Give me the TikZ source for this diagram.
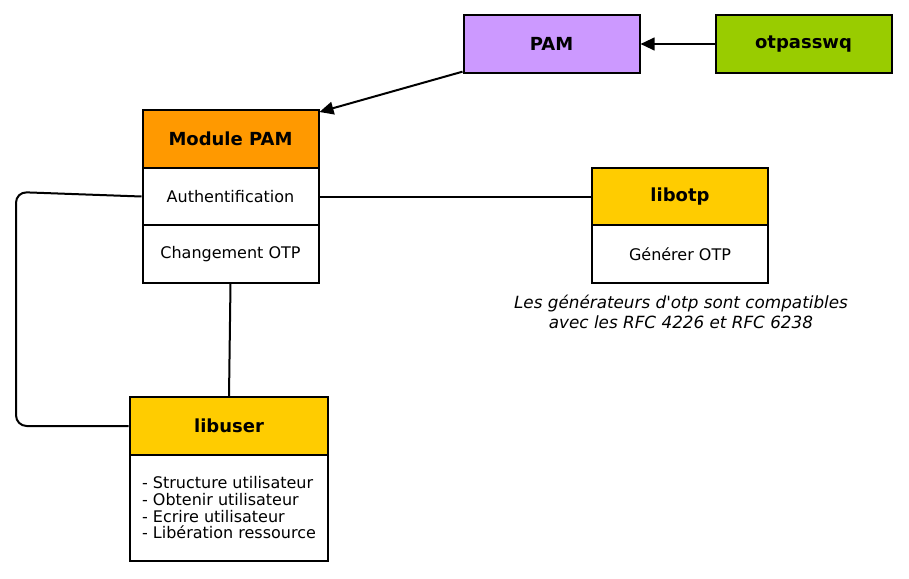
\documentclass[tikz,border=0pt]{standalone}
\usepackage{fontspec}
\setmainfont{DejaVu Sans}[Ligatures=TeXOff]
\usetikzlibrary{arrows.meta}
\definecolor{pamviolet}{HTML}{CC99FF}
\definecolor{toolgreen}{HTML}{99CC00}
\definecolor{modorange}{HTML}{FF9900}
\definecolor{libyellow}{HTML}{FFCC00}

\begin{document}
\begin{tikzpicture}[
x=0.75pt, y=-0.75pt,
box/.style={draw, line width=1.5pt, minimum width=132pt, minimum height=43pt, inner sep=2pt, font=\fontsize{12}{12.5}\selectfont},
head/.style={box, font=\fontsize{13.5}{14}\selectfont\bfseries},
link/.style={line width=1.5pt},
arrow/.style={-{Triangle[length=10.5pt,width=9.5pt]}, line width=1.5pt} ]

\useasboundingbox (0,0) rectangle (909,578);

\node[head, fill=pamviolet] (pam) at (551.5,44) {PAM};

\node[head, fill=toolgreen] (otp) at (803.5,44) {otpasswq};

\node[head, fill=modorange] (modhead) at (230.5,139) {Module PAM};

\node[box] (auth) at (230.5,196.5) {Authentification};

\node[box] (chg) at (230.5,254) {Changement OTP};

\node[head, fill=libyellow] (libotp) at (680,196.5) {libotp};

\node[box] (gen) at (680,254) {Générer OTP};

\node[align=center, font=\fontsize{12.6}{15}\selectfont\itshape] (note) at (681,312) {Les générateurs d'otp sont compatibles\\avec les RFC 4226 et RFC 6238};

\node[head, fill=libyellow, minimum width=149pt] (libuser) at (229,426) {libuser};

\node[box, minimum width=149pt, minimum height=79.5pt, align=left] (userbody) at (229,508) {- Structure utilisateur\\- Obtenir utilisateur\\- Ecrire utilisateur\\- Libération ressource};

\draw[arrow] (otp) -- (pam);

\draw[arrow] ([yshift=1.5pt]pam.south west) -- ([yshift=-2pt]modhead.north east);

\draw[link] (auth) -- (libotp);

\draw[link] (chg.south) -- (libuser.north);

\draw[link, rounded corners=8pt] (auth.west) -- (16,192) -- (16,426) -- (libuser.west);

\end{tikzpicture}
\end{document}
